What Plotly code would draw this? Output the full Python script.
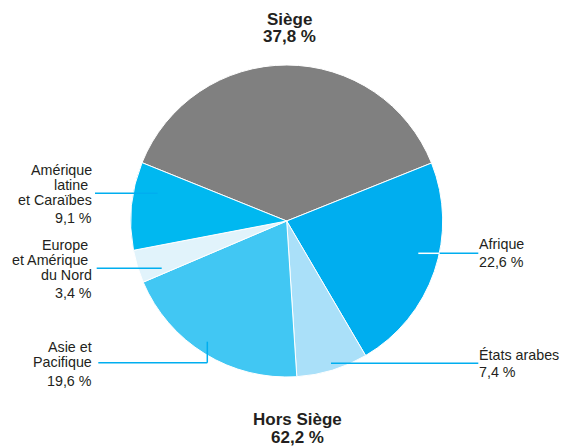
import plotly.graph_objects as go

# Répartition (en %)
regions = ["Siège", "Afrique", "États arabes", "Asie et Pacifique",
           "Europe et Amérique du Nord", "Amérique latine et Caraïbes"]
shares = [37.8, 22.6, 7.4, 19.6, 3.4, 9.1]
colors = ["#808080", "#00AEEF", "#AAE0F9", "#41C7F3", "#E1F3FB", "#00B8F0"]

# label text lines (outside the pie)
label_lines = {
    "Afrique": ["Afrique"],
    "États arabes": ["États arabes"],
    "Asie et Pacifique": ["Asie et", "Pacifique"],
    "Europe et Amérique du Nord": ["Europe ", "et Amérique ", "du Nord"],
    "Amérique latine et Caraïbes": ["Amérique", "latine ", "et Caraïbes"],
}

W, H = 563, 448
FONT = "Liberation Sans, Arial, sans-serif"
TXT = "#231F20"
LINE = "#00AEEF"


def px(x, y):
    # screen pixel -> paper coords
    return x / W, 1 - y / H


def fmt(v):
    return f"{v:.1f}".replace(".", ",") + " %"


dx0, dy0 = px(130.7, 377)
dx1, dy1 = px(442.7, 65)

fig = go.Figure(go.Pie(
    labels=regions,
    values=shares,
    sort=False,
    direction="clockwise",
    rotation=-shares[0] * 3.6 / 2,
    marker=dict(colors=colors, line=dict(color="white", width=1)),
    textinfo="none",
    hoverinfo="none",
    showlegend=False,
    domain=dict(x=[dx0, dx1], y=[dy0, dy1]),
))

annotations = []


def add_text(text, x, y, anchor, size=14.3, bold=False):
    xp, yp = px(x, y)
    annotations.append(dict(
        text=f"<b>{text}</b>" if bold else text,
        x=xp, y=yp, xref="paper", yref="paper",
        xanchor=anchor, yanchor="middle", showarrow=False, borderpad=0,
        font=dict(family=FONT, size=size, color=TXT),
    ))


# position of each label block: (x, first baseline, line step, pct baseline, anchor)
label_pos = {
    "Afrique": (478, 249, 15, 267, "left"),
    "États arabes": (478, 360, 15, 377, "left"),
    "Asie et Pacifique": (93, 352, 14.5, 386, "right"),
    "Europe et Amérique du Nord": (93, 250, 15, 298, "right"),
    "Amérique latine et Caraïbes": (93, 175, 15, 223, "right"),
}

for name, val in zip(regions, shares):
    if name not in label_pos:
        continue
    x, y0, step, yp, anchor = label_pos[name]
    for i, line in enumerate(label_lines[name]):
        add_text(line, x, y0 + i * step - 5, anchor)
    add_text(fmt(val), x, yp - 5, anchor)

# header / footer
add_text("Siège", 289, 25 - 6, "center", size=17, bold=True)
add_text(fmt(shares[0]), 289, 43 - 6, "center", size=17, bold=True)
add_text("Hors Siège", 297, 425 - 6, "center", size=17, bold=True)
add_text(fmt(100 - shares[0]), 297, 443 - 6, "center", size=17, bold=True)

# leader lines
segments = [
    ((95, 193.3), (157.7, 193.3), LINE),
    ((96.7, 268.3), (161.7, 268.3), LINE),
    ((98.3, 362.7), (207.3, 362.7), LINE),
    ((207.3, 362.7), (207.3, 341.7), LINE),
    ((439.5, 253.3), (478.3, 253.3), LINE),
    ((418.3, 253.3), (439.5, 253.3), "white"),
    ((331, 363.3), (478.3, 363.3), LINE),
]
shapes = []
for (x0, y0), (x1, y1), c in segments:
    a0, b0 = px(x0, y0)
    a1, b1 = px(x1, y1)
    shapes.append(dict(type="line", xref="paper", yref="paper",
                       x0=a0, y0=b0, x1=a1, y1=b1,
                       line=dict(color=c, width=1.5)))

fig.update_layout(
    width=W, height=H,
    margin=dict(l=0, r=0, t=0, b=0),
    paper_bgcolor="white",
    plot_bgcolor="white",
    annotations=annotations,
    shapes=shapes,
)

# drop the default 8px body margin so the figure fills the window exactly
fig.write_html("out.html", config={"displayModeBar": False},
               post_script="document.body.style.margin = '0';")
